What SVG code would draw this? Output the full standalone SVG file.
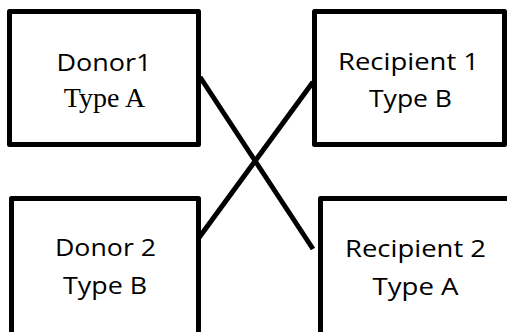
<svg xmlns="http://www.w3.org/2000/svg" width="507" height="332" viewBox="0 0 507 332">
  <style>
    .box { fill: #ffffff; stroke: #000000; stroke-width: 5; stroke-linejoin: round; }
    .link { stroke: #000000; stroke-width: 5; fill: none; }
    .sans { font-family: "Open Sans", "Noto Sans", sans-serif; font-size: 24px; fill: #000000; text-anchor: middle; }
    .serif { font-family: "Liberation Serif", "Times New Roman", serif; font-size: 28px; fill: #000000; text-anchor: middle; }
  </style>
  <rect width="507" height="332" fill="#ffffff"/>

  <g id="donor1">
    <rect class="box" x="9.5" y="11.5" width="189" height="133"/>
    <text class="sans" x="104" y="71" textLength="95" lengthAdjust="spacingAndGlyphs">Donor1</text>
    <text class="serif" x="104.5" y="107">Type A</text>
  </g>

  <g id="recipient1">
    <rect class="box" x="314.5" y="11.5" width="190" height="133"/>
    <text class="sans" x="408.5" y="70" textLength="141" lengthAdjust="spacingAndGlyphs">Recipient 1</text>
    <text class="sans" x="410.5" y="107" textLength="83" lengthAdjust="spacingAndGlyphs">Type B</text>
  </g>

  <g id="donor2">
    <rect class="box" x="11.5" y="198.5" width="187" height="200"/>
    <text class="sans" x="105.5" y="256" textLength="101" lengthAdjust="spacingAndGlyphs">Donor 2</text>
    <text class="sans" x="105" y="294" textLength="84" lengthAdjust="spacingAndGlyphs">Type B</text>
  </g>

  <g id="recipient2">
    <rect class="box" x="320.5" y="198.5" width="200" height="200"/>
    <text class="sans" x="415.5" y="257" textLength="141" lengthAdjust="spacingAndGlyphs">Recipient 2</text>
    <text class="sans" x="415.5" y="295" textLength="86" lengthAdjust="spacingAndGlyphs">Type A</text>
  </g>

  <g id="connectors">
    <line class="link" x1="200" y1="77" x2="313" y2="249"/>
    <line class="link" x1="198" y1="239" x2="313" y2="82"/>
  </g>
</svg>
